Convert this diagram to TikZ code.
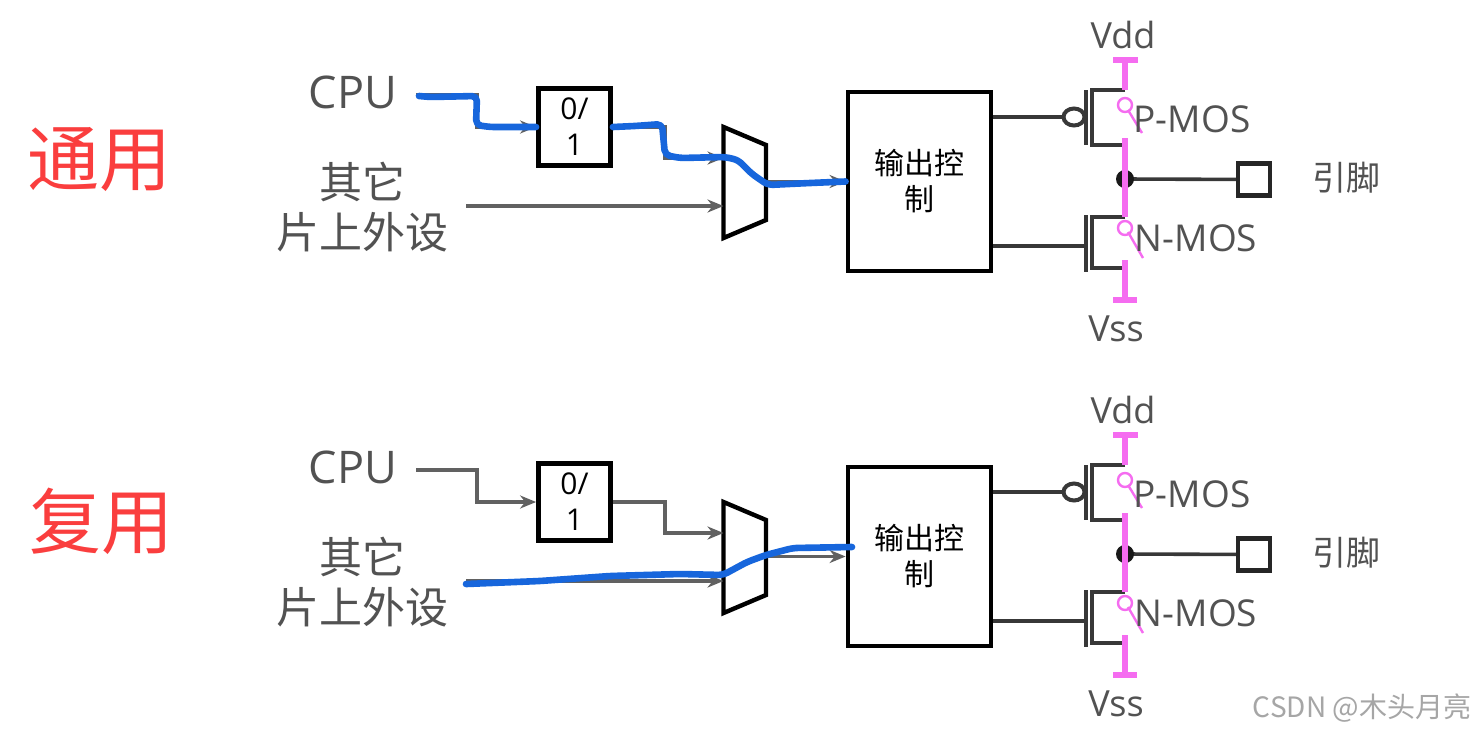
\documentclass[tikz,border=0pt]{standalone}
\usepackage{fontspec}
\setmainfont{Open Sans}
\newfontfamily\cjk{Noto Sans CJK SC}
\usetikzlibrary{arrows.meta,calc,shapes.geometric}
\tikzset{
 sig/.style={draw=black!62,line width=1.6pt},
 sigar/.style={sig,-{Stealth[length=8pt,width=6.5pt]}},
 heavy/.style={draw=black,line width=2.4pt},
 thinblk/.style={draw=black!78,line width=1.8pt},
 rail/.style={draw=railpink,line width=3pt},
 swit/.style={draw=railpink,line width=1.2pt},
 hand/.style={draw=handblue,line width=3.3pt,line cap=round,line join=round,rounded corners=2.5pt},
 lbl/.style={text=black!68,inner sep=0pt,font=\fontsize{22.5}{22.5}\selectfont},
 vlbl/.style={lbl,font=\fontsize{18}{18}\selectfont},
 cjklbl/.style={text=black!68,inner sep=0pt,align=center,font=\cjk\fontsize{21.5}{25}\selectfont},
 bx/.style={heavy,fill=white,inner sep=0pt,align=center}
}
\definecolor{railpink}{HTML}{F56CF0}
\definecolor{handblue}{HTML}{1766DC}
\definecolor{headred}{HTML}{FA3E3E}
\newcommand{\panel}[1]{%
 \node[lbl] (#1cpu) at (353,92) {CPU};
 \node[cjklbl] (#1oth) at (362,207) {其它\\片上外设};
 \node[bx,minimum width=36pt,minimum height=38.5pt,font=\fontsize{15}{18}\selectfont] (#1sel) at (574.5,127) {0/\\1};
 \node[bx,minimum width=71.5pt,minimum height=89.5pt,font=\cjk\fontsize{15}{18}\selectfont] (#1ctl) at (919.5,181.5) {输出控\\制};
 \coordinate (#1mtl) at (723.5,127);
 \coordinate (#1mtr) at (766,145);
 \coordinate (#1mbr) at (766,220);
 \coordinate (#1mbl) at (723.5,238);
 \draw[heavy,line join=miter,line width=2.2pt] (#1mtl) -- (#1mtr) -- (#1mbr) -- (#1mbl) -- cycle;
 \coordinate (#1cs) at (416,95);
 \coordinate (#1ot) at (466,206);
 \draw[sigar] (#1cs) -- (477,95) -- (477,127) -- (#1sel.west);
 \draw[sigar] (#1sel.east) -- (665,127) -- (665,158) -- (#1mtl |- 0,158);
 \draw[sigar] (#1ot) -- (#1mtl |- #1ot);
 \draw[sigar] (#1mtr |- #1ctl) -- (#1ctl.west);
 \coordinate (#1vdd) at (1125,60);
 \coordinate (#1vss) at (1125,300);
 \coordinate (#1out) at (1125,179);
 \coordinate (#1ps) at (1125,90);
 \coordinate (#1pd) at (1125,145);
 \coordinate (#1ns) at (1125,217);
 \coordinate (#1nd) at (1125,268);
 \draw[thinblk] (#1ps) -- (1092,90) -- (1092,145) -- (#1pd);
 \draw[thinblk] (#1ns) -- (1092,217) -- (1092,268) -- (#1nd);
 \draw[thinblk,line width=2.4pt] (1086,90) -- (1086,145);
 \draw[thinblk,line width=2.4pt] (1086,215) -- (1086,272);
 \node[ellipse,draw=black!78,line width=2pt,fill=white,minimum width=10.5pt,minimum height=8.5pt,inner sep=0pt] (#1bub) at (1074,117) {};
 \draw[thinblk] (#1ctl.east |- #1bub) -- (#1bub);
 \draw[thinblk] (#1ctl.east |- 0,246) -- (1086,246);
 \node[draw=black!85,line width=2.2pt,fill=white,minimum width=16pt,minimum height=16pt,inner sep=0pt] (#1pin) at (1254,179.5) {};
 \draw[thinblk] (#1out) -- (#1pin);
 \fill[black!90] (#1out) circle (4.5pt);
 \draw[rail] (1113,60) -- (1138,60);
 \draw[rail] (#1vdd) -- (#1ps);
 \draw[rail] (1125,138) -- (#1ns);
 \draw[rail] (1125,260) -- (#1vss);
 \draw[rail] (1113,300) -- (1137,300);
 \draw[swit] (1125,105) circle (3.5pt);
 \draw[swit] (1128,110) -- (1142,133);
 \draw[swit] (1125,228) circle (3.5pt);
 \draw[swit] (1128,232) -- (1143,258);
 \node[vlbl] (#1vd) at (1123,35) {Vdd};
 \node[vlbl] (#1vs) at (1116,329) {Vss};
 \node[lbl,font=\fontsize{18.5}{18.5}\selectfont] (#1pm) at (1192,119) {P-MOS};
 \node[lbl,font=\fontsize{18.5}{18.5}\selectfont] (#1nm) at (1196,238) {N-MOS};
 \node[cjklbl,font=\cjk\fontsize{17}{17}\selectfont] (#1yj) at (1346,178) {引脚};
}
\begin{document}
\begin{tikzpicture}[x=0.5pt,y=-0.5pt]
\useasboundingbox (0,0) rectangle (1476,734);
\fill[white] (0,0) rectangle (1476,734);
\node[inner sep=0pt,text=headred,font=\cjk\fontsize{36}{36}\selectfont] (ty) at (99,160) {通用};
\node[inner sep=0pt,text=headred,font=\cjk\fontsize{36}{36}\selectfont] (fy) at (101,521) {复用};
\begin{scope}
\panel{a}
\end{scope}
\begin{scope}[shift={(0,375)}]
\panel{b}
\end{scope}
% hand-drawn highlights
\draw[hand] (acs) ++(3,1) -- (430,97) -- (477,96) -- (476,125) -- (490,127) -- (asel.west);
\draw[hand] (asel.east) -- (635,126) -- (662,124) -- (665,155) -- (680,158) -- (725,157) -- (738,160) -- (752,174) -- (768,185) -- (810,183) -- (actl.west);
\draw[hand] (bot) ++(0,3) -- (540,581) -- (610,576) -- (680,574) -- (723,575) -- (747,562) -- (766,555) -- (793,548) -- (852,547);
\node[inner sep=0pt,text=black!35,font=\cjk\fontsize{14}{14}\selectfont] (wm) at (1362,708) {CSDN @木头月亮};
\end{tikzpicture}
\end{document}
